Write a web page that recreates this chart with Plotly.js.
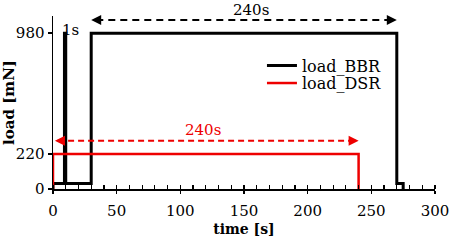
<!DOCTYPE html>
<html><head><meta charset="utf-8">
<script src="https://cdn.plot.ly/plotly-3.0.1.min.js"></script>
<style>html,body{margin:0;padding:0;background:#fff}#chart{width:457px;height:241px}</style>
</head><body><div id="chart"></div>
<script>
// Data
const bbrTime = [0, 0, 9, 9, 10, 10, 30, 30, 270, 270, 275, 275];
const bbrLoad = [0, 35, 35, 980, 980, 35, 35, 980, 980, 35, 35, 0];
const dsrTime = [0, 0, 240, 240];
const dsrLoad = [0, 220, 220, 0];
const yTickVals = [0, 220, 980];
const seriesNames = ['load_BBR', 'load_DSR'];
const durationLabel = '240s';
const spikeLabel = '1s';
const bbrSpan = [30, 270];
const dsrSpan = [0, 240];

const serif = 'DejaVu Serif';
const red = '#ee0000';

const traces = [
  {x: bbrTime, y: bbrLoad, mode: 'lines', name: seriesNames[0], line: {color: '#000', width: 3}, legend: 'legend'},
  {x: dsrTime, y: dsrLoad, mode: 'lines', name: seriesNames[1], line: {color: red, width: 2.5}, legend: 'legend2'}
];

const yB = 1063, yR = 304;
const shapes = [
  {type: 'line', xref: 'x', yref: 'y', x0: bbrSpan[0] + 4, x1: bbrSpan[1] - 4, y0: yB, y1: yB, line: {color: '#000', width: 2, dash: '7px,5px'}},
  {type: 'line', xref: 'x', yref: 'y', x0: dsrSpan[0] + 4, x1: dsrSpan[1] - 4, y0: yR, y1: yR, line: {color: red, width: 2, dash: '6px,4px'}}
];
function head(x, tailx, y, color) {
  return {x: x, y: y, ax: tailx, ay: y, axref: 'x', ayref: 'y', xref: 'x', yref: 'y', text: '', showarrow: true,
    arrowhead: 2, arrowsize: 1, arrowwidth: 2, arrowcolor: color};
}
const annotations = [
  head(bbrSpan[0], bbrSpan[0] + 6, yB, '#000'),
  head(bbrSpan[1], bbrSpan[1] - 6, yB, '#000'),
  head(dsrSpan[0] + 1.5, dsrSpan[0] + 7, yR, red),
  head(dsrSpan[1], dsrSpan[1] - 6, yR, red),
  {x: 155.7, y: 1.035, xref: 'x', yref: 'paper', xanchor: 'center', yanchor: 'middle', text: durationLabel, showarrow: false, font: {family: serif, size: 15, color: '#000'}},
  {x: 118, y: 371, xref: 'x', yref: 'y', xanchor: 'center', yanchor: 'middle', text: durationLabel, showarrow: false, font: {family: serif, size: 15, color: red}},
  {x: 13.4, y: 1000, xref: 'x', yref: 'y', xanchor: 'center', yanchor: 'middle', text: spikeLabel, showarrow: false, font: {family: serif, size: 15, color: '#000'}}
];

const layout = {
  width: 457, height: 241,
  margin: {l: 52.5, r: 22, t: 16, b: 52, pad: 0},
  paper_bgcolor: '#fff', plot_bgcolor: '#fff',
  font: {family: serif, size: 15, color: '#000'},
  showlegend: true,
  legend: {x: 0.547, y: 0.713, xanchor: 'left', yanchor: 'middle', bgcolor: 'rgba(0,0,0,0)', font: {family: serif, size: 16}},
  legend2: {x: 0.547, y: 0.612, xanchor: 'left', yanchor: 'middle', bgcolor: 'rgba(0,0,0,0)', font: {family: serif, size: 16}},
  xaxis: {
    range: [0, 300], dtick: 50, tick0: 0, showgrid: false, zeroline: false,
    showline: true, linecolor: '#000', linewidth: 1.5,
    ticks: 'outside', ticklen: 3, tickwidth: 1.5, tickcolor: '#000', ticklabelstandoff: 4,
    minor: {ticks: 'inside', ticklen: 4, dtick: 10, tickwidth: 1.2, tickcolor: '#000'},
    tickfont: {family: serif, size: 15},
    title: {text: '<b>time [s]</b>', font: {family: serif, size: 14}, standoff: 5}
  },
  xaxis2: {overlaying: 'x', anchor: 'y', range: [0, 300], dtick: 50, tick0: 0, showgrid: false, zeroline: false,
    showline: false, ticks: 'inside', ticklen: 4, tickwidth: 1.5, tickcolor: '#000', showticklabels: false},
  yaxis: {
    range: [0, 1088], tickmode: 'array', tickvals: yTickVals, showgrid: false, zeroline: false,
    showline: true, linecolor: '#000', linewidth: 1.5,
    ticks: 'outside', ticklen: 4, tickwidth: 1.5, tickcolor: '#000',
    tickfont: {family: serif, size: 15},
    title: {text: '<b>load [mN]</b>', font: {family: serif, size: 15}, standoff: 2}
  },
  yaxis2: {overlaying: 'y', anchor: 'x', range: [0, 1088], tickmode: 'array', tickvals: yTickVals, showgrid: false, zeroline: false,
    showline: false, ticks: 'inside', ticklen: 4, tickwidth: 1.5, tickcolor: '#000', showticklabels: false},
  shapes: shapes,
  annotations: annotations
};

Plotly.newPlot('chart', traces, layout, {staticPlot: true, displayModeBar: false});
</script></body></html>
